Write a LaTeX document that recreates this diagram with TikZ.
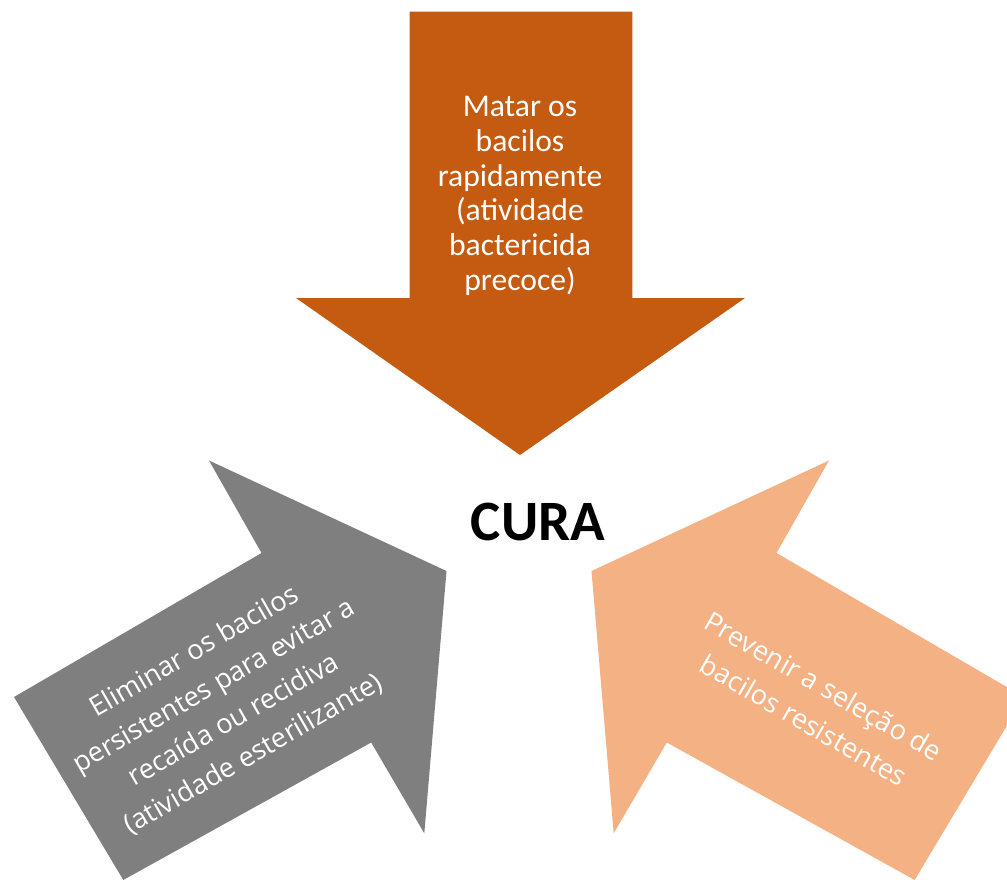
\documentclass[tikz,border=0pt]{standalone}
\usepackage{fontspec}
\setmainfont{Carlito}
\newfontfamily\opensans{Open Sans}
\usepackage{tikz}
\usetikzlibrary{positioning}
\definecolor{rust}{HTML}{C55A11}
\definecolor{peach}{HTML}{F4B183}
\definecolor{ashgray}{HTML}{7F7F7F}
\tikzset{arrowtext/.style={text=white,align=center,inner sep=0pt,font=\fontsize{18}{19.8}\selectfont},
         tilttext/.style={arrowtext,font=\opensans\fontsize{15.5}{22.5}\selectfont}}

\begin{document}
\begin{tikzpicture}[x=0.02cm,y=-0.02cm]
\useasboundingbox (0,0) rectangle (1007,883);
\clip (0,0) rectangle (1007,883);

% top arrow
\fill[rust] (409.5,11.5) -- (632.3,11.5) -- (632.3,298) -- (745,298) -- (520,455)
            -- (296,298) -- (409.5,298) -- cycle;
% left arrow
\fill[ashgray] (14,697) -- (261.5,553) -- (209,460.5) -- (446.5,571) -- (424.3,833.3)
            -- (371.2,742.5) -- (123.3,880) -- cycle;
% right arrow (mirror of the left one)
\fill[peach] (1024,697) -- (776.5,553) -- (829,460.5) -- (591.5,571) -- (613.7,833.3)
            -- (666.8,742.5) -- (914.7,880) -- cycle;

\node[arrowtext] (matar) at (520,196) {Matar os\\bacilos\\rapidamente\\(atividade\\bactericida\\precoce)};
\node[tilttext,rotate=30] (eliminar) at (224,703) {Eliminar os bacilos\\persistentes para evitar a\\reca\'ida ou recidiva\\(atividade esterilizante)};
\node[tilttext,rotate=-30] (prevenir) at (814,703) {Prevenir a sele\c{c}\~ao de\\bacilos resistentes};

\node[font=\fontsize{32.5}{38}\selectfont\bfseries,inner sep=0pt] (cura) at (538,521.5) {CURA};
\end{tikzpicture}
\end{document}
